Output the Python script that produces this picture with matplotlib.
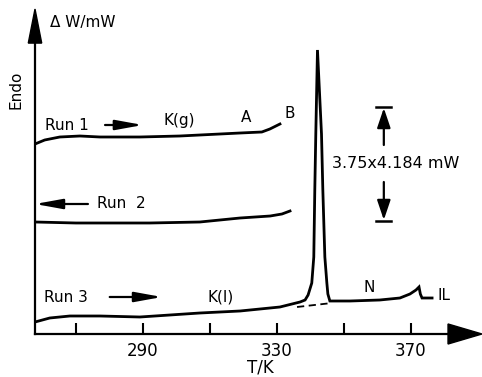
import numpy as np
import matplotlib.pyplot as plt
from matplotlib.patches import Polygon
from matplotlib.ticker import FixedLocator, FixedFormatter

# trace heights (arbitrary units above the T axis)
run1_T = [257.8, 260.7, 265.2, 271.2, 277.2, 289.1, 301.0, 319.0, 325.5, 327.9, 329.7, 330.9]
run1_h = [190, 194, 197, 198, 197, 197, 198, 201, 202, 205, 208, 210]

run2_T = [257.8, 270.0, 277.2, 292.0, 307.0, 319.0, 328.0, 331.5, 333.9]
run2_h = [112, 111, 111, 111, 112, 116, 118, 120, 123]

run3_T = [257.8, 262.2, 268.2, 277.2, 289.1, 307.0, 319.0, 330.9, 336.9, 338.4, 339.3,
          340.4, 341.0, 341.3, 341.6, 342.1, 343.3, 343.7, 344.3, 344.9, 345.2, 345.8,
          351.8, 360.7, 366.7, 369.7, 371.5, 372.4, 372.8, 373.3, 376.3]
run3_h = [12, 16, 18, 18, 17, 21, 23, 27, 32, 34, 39,
          51, 77, 144, 200, 284, 200, 144, 77, 51, 40, 33,
          33, 34, 36, 40, 44, 47, 40, 36, 36]

base_T = [336.0, 346.4]
base_h = [27, 31]

ticks = [270, 290, 310, 330, 350, 370]
tick_labels = ['', '290', '', '330', '', '370']

fig = plt.figure(figsize=(4.82, 3.77), dpi=100)
ax = fig.add_axes([35/482, 43/377, 447/482, 334/377])
ax.set_xlim(257.8, 391.2)
ax.set_ylim(0, 334)

lw = 2.0
ax.plot(run1_T, run1_h, color='black', lw=lw)
ax.plot(run2_T, run2_h, color='black', lw=lw)
ax.plot(run3_T, run3_h, color='black', lw=lw, solid_joinstyle='miter')
ax.plot(base_T, base_h, color='black', lw=1.3, ls=(0, (4, 2.5)))

for s in ['top', 'right']:
    ax.spines[s].set_visible(False)
ax.spines['left'].set_linewidth(1.6)
ax.spines['bottom'].set_linewidth(1.6)
ax.spines['left'].set_bounds(0, 300)
ax.spines['bottom'].set_bounds(257.8, 381)

# arrow heads on the axes
ax.add_patch(Polygon([[0.924, 0.03], [1.0, 0.0], [0.924, -0.03]], closed=True,
                     transform=ax.transAxes, color='black', clip_on=False))
ax.add_patch(Polygon([[-0.015, 0.871], [0.0, 0.973], [0.015, 0.871]], closed=True,
                     transform=ax.transAxes, color='black', clip_on=False))

ax.xaxis.set_major_locator(FixedLocator(ticks))
ax.xaxis.set_major_formatter(FixedFormatter(tick_labels))
ax.tick_params(axis='x', direction='in', length=8, width=1.5, pad=6, labelsize=12)
ax.set_yticks([])

fs = 11
ax.text(262.2, 312, 'Δ W/mW', fontsize=fs, ha='left', va='center')
fig.text(16/482, 1 - 90/377, 'Endo', fontsize=fs, rotation=90, ha='center', va='center')

arr = dict(arrowstyle='-|>,head_length=1.1,head_width=0.2', color='black', lw=1.6,
           shrinkA=0, shrinkB=0, mutation_scale=15)
arr_bar = dict(arrowstyle='-|>,head_length=0.8,head_width=0.27', color='black', lw=1.6,
               shrinkA=0, shrinkB=0, mutation_scale=15)
ax.text(260.7, 209, 'Run 1', fontsize=fs, ha='left', va='center')
ax.annotate('', xy=(290.0, 209), xytext=(278.7, 209), arrowprops=arr)
ax.text(296.0, 214, 'K(g)', fontsize=fs, ha='left', va='center')
ax.text(320.7, 216, 'A', fontsize=fs, ha='center', va='center')
ax.text(333.9, 221, 'B', fontsize=fs, ha='center', va='center')

ax.annotate('', xy=(257.8, 130), xytext=(273.6, 130), arrowprops=arr)
ax.text(276.3, 130, 'Run  2', fontsize=fs, ha='left', va='center')

ax.text(260.4, 37, 'Run 3', fontsize=fs, ha='left', va='center')
ax.annotate('', xy=(295.7, 37), xytext=(280.1, 37), arrowprops=arr)
ax.text(309.4, 37, 'K(I)', fontsize=fs, ha='left', va='center')
ax.text(357.5, 46, 'N', fontsize=fs, ha='center', va='center')
ax.text(377.8, 38, 'IL', fontsize=fs, ha='left', va='center')

# scale bar
ax.plot([359.6, 364.0], [227, 227], color='black', lw=1.8)
ax.plot([359.6, 364.0], [113, 113], color='black', lw=1.8)
ax.annotate('', xy=(361.9, 226), xytext=(361.9, 189), arrowprops=arr_bar)
ax.annotate('', xy=(361.9, 114), xytext=(361.9, 152), arrowprops=arr_bar)
ax.text(365.5, 171, '3.75x4.184 mW', fontsize=11.5, ha='center', va='center')

ax.text(325.0, -34, 'T/K', fontsize=12, ha='center', va='center', clip_on=False)

fig.savefig('out.png', dpi=100)
